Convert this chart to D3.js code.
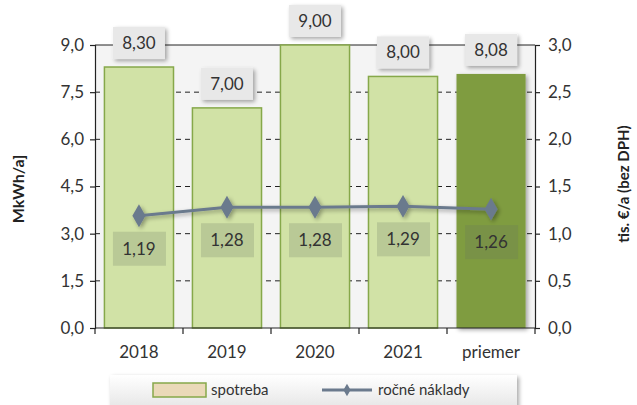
<!DOCTYPE html>
<html>
<head>
<meta charset="utf-8">
<script src="https://cdn.jsdelivr.net/npm/d3@7"></script>
<style>
  body { margin: 0; background: #fff; }
  svg { display: block; font-family: Lato, "Open Sans", sans-serif; }
</style>
</head>
<body>
<div id="chart"></div>
<script>
// data
const categories = ['2018', '2019', '2020', '2021', 'priemer'];
const consumption = [8.30, 7.00, 9.00, 8.00, 8.08];   // MkWh/a
const costs = [1.19, 1.28, 1.28, 1.29, 1.26];          // tis. €/a
const leftTicks = [0, 1.5, 3, 4.5, 6, 7.5, 9];
const rightTicks = [0, 0.5, 1, 1.5, 2, 2.5, 3];
const fmt1 = d => d.toFixed(1).replace('.', ',');
const fmt2 = d => d.toFixed(2).replace('.', ',');

const W = 637, H = 405;
const m = { top: 45, right: 102, bottom: 77, left: 95 };
const iw = W - m.left - m.right, ih = H - m.top - m.bottom;

const svg = d3.select('#chart').append('svg').attr('width', W).attr('height', H);
const defs = svg.append('defs');
const sh = defs.append('filter').attr('id', 'sh').attr('x', '-30%').attr('y', '-30%').attr('width', '160%').attr('height', '160%');
sh.append('feGaussianBlur').attr('in', 'SourceAlpha').attr('stdDeviation', 2.2);
sh.append('feOffset').attr('dx', 2).attr('dy', 2).attr('result', 'b');
sh.append('feComponentTransfer').append('feFuncA').attr('type', 'linear').attr('slope', 0.35);
const mg = sh.append('feMerge'); mg.append('feMergeNode'); mg.append('feMergeNode').attr('in', 'SourceGraphic');

const lg = defs.append('linearGradient').attr('id', 'lgbg').attr('x1', 0).attr('y1', 0).attr('x2', 0).attr('y2', 1);
lg.append('stop').attr('offset', '0%').attr('stop-color', '#ffffff');
lg.append('stop').attr('offset', '100%').attr('stop-color', '#e4e4e4');

const x = d3.scaleBand(categories, [0, iw]).paddingInner(0.215).paddingOuter(0.107);
const y = d3.scaleLinear([0, 9], [ih, 0]);
const y2 = d3.scaleLinear([0, 3], [ih, 0]);

const g = svg.append('g').attr('transform', `translate(${m.left},${m.top})`);

// plot background
g.append('rect').attr('width', iw).attr('height', ih).attr('fill', '#f4f4f4');

// gridlines
g.selectAll('.grid').data(leftTicks.filter(t => t > 0 && t < 9)).join('line')
  .attr('x1', 0).attr('x2', iw).attr('y1', d => y(d)).attr('y2', d => y(d))
  .attr('stroke', '#222').attr('stroke-width', 1).attr('stroke-dasharray', '5,4');
g.append('line').attr('x1', 0).attr('x2', iw).attr('y1', 0).attr('y2', 0).attr('stroke', '#222');

// bars
g.selectAll('.bar').data(consumption).join('rect')
  .attr('x', (d, i) => x(categories[i])).attr('width', x.bandwidth())
  .attr('y', d => y(d)).attr('height', d => ih - y(d))
  .attr('fill', (d, i) => i === 4 ? '#7f9c40' : '#d1e2a6')
  .attr('stroke', (d, i) => i === 4 ? 'none' : '#86a84a').attr('stroke-width', 1.5)
  .attr('filter', (d, i) => i === 4 ? 'url(#sh)' : null);

// bar labels
const bl = g.selectAll('.bl').data(consumption).join('g')
  .attr('transform', (d, i) => `translate(${x(categories[i]) + x.bandwidth() / 2},${y(d) - 24})`);
bl.append('rect').attr('x', -26).attr('y', -16).attr('width', 52).attr('height', 32)
  .attr('fill', '#e8e8e8').attr('filter', 'url(#sh)');
bl.append('text').attr('text-anchor', 'middle').attr('dy', '0.35em')
  .attr('font-size', 17).attr('fill', '#333').text(fmt2);

// axes
const axL = g.append('g').call(d3.axisLeft(y).tickValues(leftTicks).tickFormat(fmt1).tickSize(5).tickPadding(6));
const axR = g.append('g').attr('transform', `translate(${iw},0)`)
  .call(d3.axisRight(y2).tickValues(rightTicks).tickFormat(fmt1).tickSize(5).tickPadding(8));
const axB = g.append('g').attr('transform', `translate(0,${ih})`)
  .call(d3.axisBottom(x).tickSize(0).tickPadding(18));
[axL, axR, axB].forEach(a => {
  a.selectAll('path,line').attr('stroke', '#222').attr('stroke-width', 1.2);
  a.selectAll('text').attr('font-size', 17).attr('fill', '#333').attr('font-family', 'Lato, sans-serif');
});
axB.select('path').attr('d', `M0,0H${iw}`);
// bottom ticks between categories
const bounds = d3.range(categories.length + 1).map(i => i * iw / categories.length);
g.selectAll('.bt').data(bounds).join('line')
  .attr('x1', d => d).attr('x2', d => d).attr('y1', ih).attr('y2', ih + 6)
  .attr('stroke', '#222').attr('stroke-width', 1.2);

// cost line
const cx = i => x(categories[i]) + x.bandwidth() / 2;
const line = d3.line().x((d, i) => cx(i)).y(d => y2(d));
const lineG = g.append('g').attr('filter', 'url(#sh)');
lineG.append('path').datum(costs).attr('d', line).attr('fill', 'none')
  .attr('stroke', '#6b7a8d').attr('stroke-width', 3);
lineG.selectAll('.mk').data(costs).join('path')
  .attr('d', d3.symbol(d3.symbolDiamond, 150))
  .attr('transform', (d, i) => `translate(${cx(i)},${y2(d)})`)
  .attr('fill', '#6b7a8d');

// cost labels
const cl = g.selectAll('.cl').data(costs).join('g')
  .attr('transform', (d, i) => `translate(${cx(i)},${y2(d) + 33})`);
cl.append('rect').attr('x', -26).attr('y', -17).attr('width', 53).attr('height', 34)
  .attr('fill', 'rgba(100,115,95,0.22)');
cl.append('text').attr('text-anchor', 'middle').attr('dy', '0.35em')
  .attr('font-size', 17).attr('fill', '#333').text(fmt2);

// axis titles
svg.append('text').attr('transform', `translate(24,189) rotate(-90)`)
  .attr('text-anchor', 'middle').attr('font-size', 16).attr('font-weight', 'bold').attr('fill', '#222')
  .text('MkWh/a]');
svg.append('text').attr('transform', `translate(629,184) rotate(-90)`)
  .attr('text-anchor', 'middle').attr('font-size', 15).attr('font-weight', 'bold').attr('fill', '#222')
  .text('tis. €/a (bez DPH)');

// legend
const leg = svg.append('g').attr('transform', 'translate(110,375)');
leg.append('rect').attr('width', 407).attr('height', 36).attr('fill', 'url(#lgbg)').attr('filter', 'url(#sh)');
leg.append('rect').attr('x', 43).attr('y', 8).attr('width', 53).attr('height', 14)
  .attr('fill', '#ead9b8').attr('stroke', '#86a84a').attr('stroke-width', 1.5);
leg.append('text').attr('x', 101).attr('y', 15).attr('dy', '0.35em').attr('font-size', 15).attr('fill', '#333').text('spotreba');
leg.append('line').attr('x1', 212).attr('x2', 262).attr('y1', 15).attr('y2', 15).attr('stroke', '#6b7a8d').attr('stroke-width', 3);
leg.append('path').attr('d', d3.symbol(d3.symbolDiamond, 45)).attr('transform', 'translate(237,15)').attr('fill', '#6b7a8d');
leg.append('text').attr('x', 268).attr('y', 15).attr('dy', '0.35em').attr('font-size', 15).attr('fill', '#333').text('ročné náklady');
</script>
</body>
</html>
